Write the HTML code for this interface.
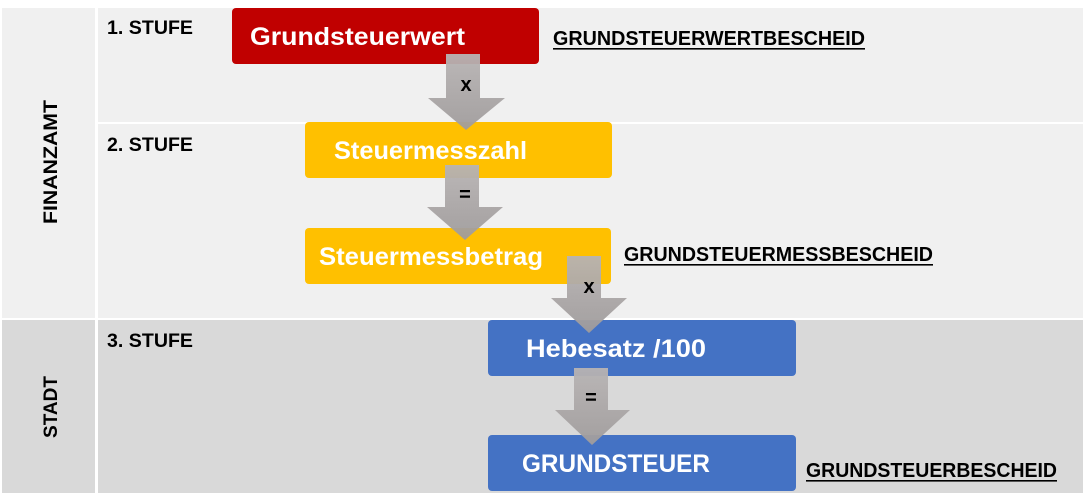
<!DOCTYPE html>
<html><head><meta charset="utf-8"><style>
html,body{margin:0;padding:0;background:#fff;}
svg{display:block;}
text{font-family:"Liberation Sans",sans-serif;font-weight:bold;}
</style></head><body>
<svg width="1090" height="503" viewBox="0 0 1090 503" xmlns="http://www.w3.org/2000/svg">
<defs>
<linearGradient id="g" x1="0" y1="0" x2="0" y2="1">
<stop offset="0" stop-color="#b8b4b4"/><stop offset="1" stop-color="#a09c9c"/>
</linearGradient>
</defs>
<rect x="0" y="0" width="1090" height="503" fill="#fff"/>
<rect x="2" y="8" width="93" height="310" fill="#f0f0f0"/>
<rect x="98" y="8" width="985" height="114" fill="#f0f0f0"/>
<rect x="98" y="124" width="985" height="194" fill="#f0f0f0"/>
<rect x="2" y="320" width="93" height="173" fill="#d9d9d9"/>
<rect x="98" y="320" width="985" height="173" fill="#d9d9d9"/>

<text transform="translate(57,162) rotate(-90)" font-size="19" text-anchor="middle" fill="#000" textLength="124" lengthAdjust="spacingAndGlyphs">FINANZAMT</text>
<text transform="translate(57,407) rotate(-90)" font-size="19" text-anchor="middle" fill="#000" textLength="62" lengthAdjust="spacingAndGlyphs">STADT</text>

<text x="107" y="34" font-size="19" fill="#000" textLength="86" lengthAdjust="spacingAndGlyphs">1. STUFE</text>
<text x="107" y="151" font-size="19" fill="#000" textLength="86" lengthAdjust="spacingAndGlyphs">2. STUFE</text>
<text x="107" y="347" font-size="19" fill="#000" textLength="86" lengthAdjust="spacingAndGlyphs">3. STUFE</text>

<rect x="232" y="8" width="307" height="56" rx="4" fill="#c00000"/>
<text x="250" y="45" font-size="25" fill="#fff" textLength="215" lengthAdjust="spacingAndGlyphs">Grundsteuerwert</text>
<rect x="305" y="122" width="307" height="56" rx="4" fill="#ffc000"/>
<text x="334" y="159" font-size="25" fill="#fff" textLength="193" lengthAdjust="spacingAndGlyphs">Steuermesszahl</text>
<rect x="305" y="228" width="306" height="56" rx="4" fill="#ffc000"/>
<text x="319" y="265" font-size="25" fill="#fff" textLength="224" lengthAdjust="spacingAndGlyphs">Steuermessbetrag</text>
<rect x="488" y="320" width="308" height="56" rx="4" fill="#4472c4"/>
<text x="526" y="357" font-size="25" fill="#fff" textLength="180" lengthAdjust="spacingAndGlyphs">Hebesatz /100</text>
<rect x="488" y="435" width="308" height="56" rx="4" fill="#4472c4"/>
<text x="522" y="472" font-size="25" fill="#fff" textLength="188" lengthAdjust="spacingAndGlyphs">GRUNDSTEUER</text>

<g fill="url(#g)" opacity="0.95">
<polygon points="446,54 480,54 480,98 505,98 466,130 428,98 446,98"/>
<polygon points="445,165 479,165 479,207 503,207 465,240 427,207 445,207"/>
<polygon points="567,256 601,256 601,298 627,298 589,333 551,298 567,298"/>
<polygon points="574,368 608,368 608,410 630,410 592,445 555,410 574,410"/>
</g>
<text x="466" y="91" font-size="20" text-anchor="middle" fill="#000">x</text>
<text x="465" y="201" font-size="20" text-anchor="middle" fill="#000">=</text>
<text x="589" y="293" font-size="20" text-anchor="middle" fill="#000">x</text>
<text x="591" y="404" font-size="20" text-anchor="middle" fill="#000">=</text>

<text x="553" y="45" font-size="20" fill="#000" textLength="312" lengthAdjust="spacingAndGlyphs">GRUNDSTEUERWERTBESCHEID</text>
<rect x="553" y="48" width="312" height="1.6" fill="#000"/>
<text x="624" y="261" font-size="20" fill="#000" textLength="309" lengthAdjust="spacingAndGlyphs">GRUNDSTEUERMESSBESCHEID</text>
<rect x="624" y="264" width="309" height="1.6" fill="#000"/>
<text x="806" y="477" font-size="20" fill="#000" textLength="251" lengthAdjust="spacingAndGlyphs">GRUNDSTEUERBESCHEID</text>
<rect x="806" y="480" width="251" height="1.6" fill="#000"/>
</svg>
</body></html>
